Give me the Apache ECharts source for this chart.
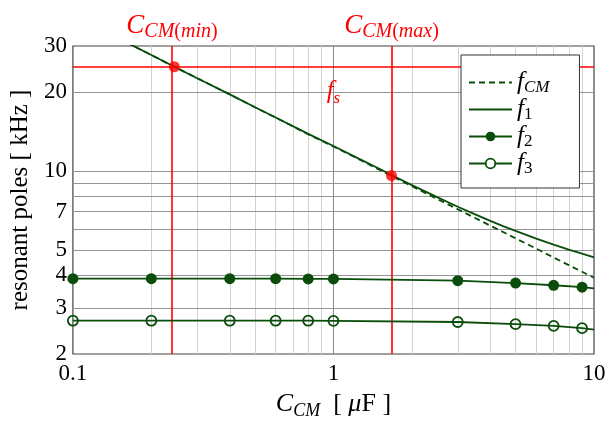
<!DOCTYPE html>
<html>
<head>
<meta charset="utf-8">
<title>Resonant poles vs C_CM</title>
<script src="https://cdn.jsdelivr.net/npm/echarts@6/dist/echarts.min.js"></script>
<style>
  html, body { margin: 0; padding: 0; background: #fff; }
  #chart { width: 613px; height: 429px; }
</style>
</head>
<body>
<div id="chart"></div>
<script>
// Common-mode capacitance sweep [µF] for the two unmarked curves
const capCurve = [0.16, 0.2, 0.245, 0.3, 0.4, 0.5, 0.6, 0.8, 1, 1.25, 1.5, 1.67, 2, 2.5, 3, 3.5, 4, 4.5, 5, 6, 7, 8, 9, 10];
// Common-mode resonance f_CM [kHz]
const fCM = [31.0, 27.7, 25.0, 22.6, 19.6, 17.5, 16.0, 13.8, 12.4, 11.1, 10.1, 9.57, 8.75, 7.82, 7.14, 6.61, 6.18, 5.83, 5.53, 5.05, 4.67, 4.37, 4.12, 3.91];
// First resonant pole f_1 [kHz]
const f1 = [31.0, 27.7, 25.0, 22.6, 19.6, 17.5, 16.0, 13.85, 12.45, 11.15, 10.2, 9.65, 8.83, 7.94, 7.30, 6.83, 6.45, 6.14, 5.90, 5.52, 5.23, 5.01, 4.83, 4.68];

// Sampled capacitances for the marked poles (last one only closes the line)
const capMarked = [0.1, 0.2, 0.4, 0.6, 0.8, 1, 3, 5, 7, 9, 10];
const f2 = [3.88, 3.88, 3.88, 3.88, 3.87, 3.87, 3.81, 3.73, 3.66, 3.60, 3.56];
const f3 = [2.68, 2.68, 2.68, 2.68, 2.68, 2.675, 2.65, 2.60, 2.56, 2.51, 2.48];

// Switching frequency and capacitance limits
const fSwitch = 25;
const capMin = 0.245;
const capMax = 1.67;
const fAtCapMax = 9.6;

// Axis ticks and grid
const xTickValues = [0.1, 1, 10];
const xTickLabels = ['0.1', '1', '10'];
const xMinorGrid = [0.2, 0.3, 0.4, 0.5, 0.6, 0.7, 0.8, 0.9, 2, 3, 4, 5, 6, 7, 8, 9];
const xMajorGrid = [1];
const yTickValues = [2, 3, 4, 5, 7, 10, 20, 30];
const yGrid = [3, 4, 5, 6, 7, 8, 9, 10, 20];

const green = '#0a4d0a';
const red = '#ff0000';
const serif = '"Liberation Serif", "DejaVu Serif", serif';

const zip = (xs, ys) => xs.map((x, i) => [x, ys[i]]);

// rich-text styles for math-like labels (italic symbol + lowered subscript)
function mathRich(size, subSize, color, lineHeight) {
  const lh = lineHeight || Math.round(size * 1.2);
  return {
    i: { fontFamily: serif, fontStyle: 'italic', fontSize: size, lineHeight: lh, verticalAlign: 'middle', color },
    r: { fontFamily: serif, fontSize: size, lineHeight: lh, verticalAlign: 'middle', color },
    si: { fontFamily: serif, fontStyle: 'italic', fontSize: subSize, lineHeight: subSize, verticalAlign: 'bottom', color },
    sr: { fontFamily: serif, fontSize: subSize, lineHeight: subSize, verticalAlign: 'bottom', color }
  };
}

const legendText = {
  fCM: '{i|f}{si|CM}',
  f1: '{i|f}{sr|1}',
  f2: '{i|f}{sr|2}',
  f3: '{i|f}{sr|3}'
};

const chart = echarts.init(document.getElementById('chart'), null, { renderer: 'canvas' });

const tickStyle = { show: true, inside: true, length: 5, lineStyle: { color: '#555', width: 1 } };

chart.setOption({
  animation: false,
  backgroundColor: '#fff',
  grid: {
    left: 71, right: 19, top: 46, bottom: 75,
    show: true, borderColor: '#444', borderWidth: 1.2, backgroundColor: 'transparent'
  },
  xAxis: [{
    type: 'log', logBase: 10, min: 0.1, max: 10,
    name: '{i|C}{si|CM}{r|  [ }{i|μ}{r|F ]}',
    nameLocation: 'middle', nameGap: 35,
    nameTextStyle: { rich: mathRich(26, 18, '#000'), color: '#000' },
    axisLine: { show: false },
    axisTick: Object.assign({ customValues: xMinorGrid.concat(xMajorGrid) }, tickStyle),
    axisLabel: {
      customValues: xTickValues,
      formatter: (v) => xTickLabels[xTickValues.findIndex(t => Math.abs(Math.log10(t) - Math.log10(v)) < 1e-6)],
      fontFamily: serif, fontSize: 23, color: '#000', margin: 8
    },
    splitLine: { show: false }
  }, {
    type: 'log', logBase: 10, min: 0.1, max: 10, position: 'top',
    axisLine: { show: false },
    axisTick: Object.assign({ customValues: xMinorGrid.concat(xMajorGrid) }, tickStyle),
    axisLabel: { show: false },
    splitLine: { show: false }
  }],
  yAxis: {
    type: 'log', logBase: 10, min: 2, max: 30,
    name: 'resonant poles [ kHz ]',
    nameLocation: 'middle', nameGap: 38,
    nameTextStyle: { fontFamily: serif, fontSize: 25, color: '#000' },
    axisLine: { show: false },
    axisTick: { show: false },
    axisLabel: {
      customValues: yTickValues,
      formatter: (v) => String(Math.round(v)),
      fontFamily: serif, fontSize: 23, color: '#000', margin: 6
    },
    splitLine: { show: false }
  },
  legend: {
    orient: 'vertical',
    left: 461, top: 55,
    padding: [15, 30, 11, 7],
    backgroundColor: '#fff',
    borderColor: '#333', borderWidth: 1,
    itemWidth: 43, itemHeight: 12, itemGap: 1,
    data: [
      { name: 'fCM', itemStyle: { opacity: 0 } },
      { name: 'f1', itemStyle: { opacity: 0 } },
      { name: 'f2', itemStyle: { color: green, borderWidth: 0 } },
      { name: 'f3', itemStyle: { color: '#fff', borderColor: green, borderWidth: 1.8 } }
    ],
    formatter: (name) => legendText[name],
    textStyle: { rich: mathRich(25, 17, '#000', 27), color: '#000' }
  },
  series: [
    {
      // grid lines, placed through the axis scales, kept beneath everything
      name: 'grid', type: 'line', data: [], silent: true, z: 1,
      markLine: {
        z: 1,
        silent: true, symbol: ['none', 'none'], animation: false,
        label: { show: false },
        data: [
          ...xMinorGrid.map(v => ({ xAxis: v, lineStyle: { color: '#d2d2d2', width: 1, type: 'solid' } })),
          ...xMajorGrid.map(v => ({ xAxis: v, lineStyle: { color: '#8a8a8a', width: 1, type: 'solid' } })),
          ...yGrid.map(v => ({ yAxis: v, lineStyle: { color: '#959595', width: 1, type: 'solid' } }))
        ]
      }
    },
    {
      // design limits: switching frequency and capacitance range
      name: 'limits', type: 'line', data: [], silent: true, z: 2,
      markLine: {
        z: 2,
        silent: true, symbol: ['none', 'none'], animation: false,
        lineStyle: { color: red, width: 1.6, type: 'solid' },
        label: { color: red, rich: mathRich(27, 20, red) },
        data: [
          { xAxis: capMin, label: { position: 'end', distance: 4, formatter: '{i|C}{si|CM}{sr|(}{si|min}{sr|)}' } },
          { xAxis: capMax, label: { position: 'end', distance: 4, formatter: '{i|C}{si|CM}{sr|(}{si|max}{sr|)}' } },
          { yAxis: fSwitch, label: { position: 'insideMiddleBottom', distance: 10, rich: mathRich(25, 17, red), formatter: '{i|f}{si|s}' } }
        ]
      }
    },
    {
      name: 'fCM', type: 'line', z: 3,
      data: zip(capCurve, fCM),
      showSymbol: false, symbol: 'none', clip: true,
      lineStyle: { color: green, width: 1.8, type: [6, 4] },
      itemStyle: { color: green }
    },
    {
      name: 'f1', type: 'line', z: 3,
      data: zip(capCurve, f1),
      showSymbol: false, symbol: 'none', clip: true,
      lineStyle: { color: green, width: 1.8 },
      itemStyle: { color: green }
    },
    {
      name: 'f2', type: 'line', z: 3,
      data: zip(capMarked, f2).map((p, i) => i === capMarked.length - 1 ? { value: p, symbol: 'none' } : p),
      symbol: 'circle', symbolSize: 11, showAllSymbol: true,
      lineStyle: { color: green, width: 1.8 },
      itemStyle: { color: green, borderWidth: 0 }
    },
    {
      name: 'f3', type: 'line', z: 3,
      data: zip(capMarked, f3).map((p, i) => i === capMarked.length - 1 ? { value: p, symbol: 'none' } : p),
      symbol: 'circle', symbolSize: 10, showAllSymbol: true,
      lineStyle: { color: green, width: 1.8 },
      itemStyle: { color: 'rgba(255,255,255,0)', borderColor: green, borderWidth: 1.8 }
    },
    {
      name: 'crossings', type: 'scatter', z: 5, silent: true,
      data: [[capMin, fSwitch], [capMax, fAtCapMax]],
      symbol: 'circle', symbolSize: 11,
      itemStyle: { color: red }
    }
  ]
});
</script>
</body>
</html>
